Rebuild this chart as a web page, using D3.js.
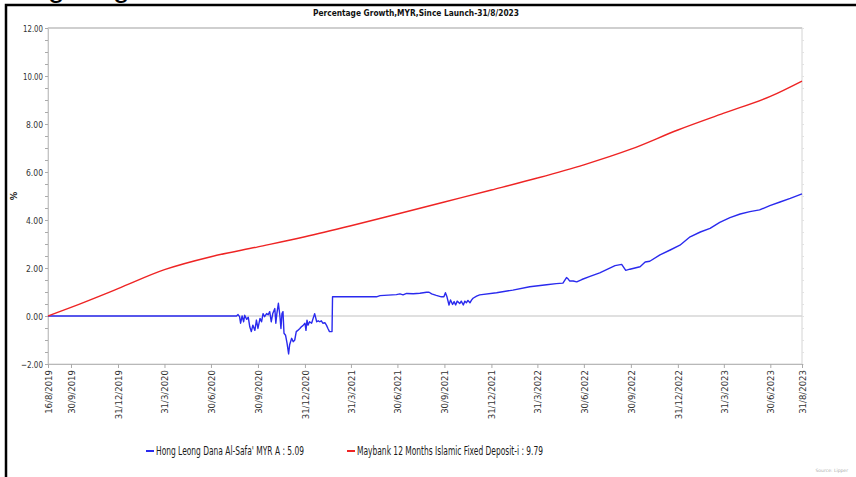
<!DOCTYPE html>
<html>
<head>
<meta charset="utf-8">
<script src="https://cdn.jsdelivr.net/npm/d3@7"></script>
<style>
  html, body { margin: 0; padding: 0; background: #fff; }
  svg { display: block; }
  .axis text { fill: #333; }
</style>
</head>
<body>
<svg id="chart" width="856" height="477"></svg>
<script>
"use strict";

const title = "Percentage Growth,MYR,Since Launch-31/8/2023";

const seriesNames = [
  "Hong Leong Dana Al-Safa' MYR A : 5.09",
  "Maybank 12 Months Islamic Fixed Deposit-i : 9.79",
];
const seriesColors = ["#2a2aee", "#ee2424"];

const xTickDates = [
  "2019-08-16", "2019-09-30", "2019-12-31", "2020-03-31", "2020-06-30",
  "2020-09-30", "2020-12-31", "2021-03-31", "2021-06-30", "2021-09-30",
  "2021-12-31", "2022-03-31", "2022-06-30", "2022-09-30", "2022-12-31",
  "2023-03-31", "2023-06-30", "2023-08-31",
];
const yTicks = [-2, 0, 2, 4, 6, 8, 10, 12];

// Hong Leong Dana Al-Safa' MYR A, % growth
const fundData = [
  ["2019-08-16", 0], ["2020-08-19", 0], ["2020-08-22", 0.06], ["2020-08-25", -0.03],
  ["2020-08-27", -0.3], ["2020-08-30", 0], ["2020-09-02", -0.24], ["2020-09-04", 0.03],
  ["2020-09-08", -0.14], ["2020-09-11", -0.05], ["2020-09-14", -0.45], ["2020-09-17", -0.65],
  ["2020-09-20", -0.38], ["2020-09-24", -0.6], ["2020-09-27", -0.17], ["2020-09-30", -0.52],
  ["2020-10-04", -0.1], ["2020-10-07", -0.24], ["2020-10-10", 0.1], ["2020-10-13", -0.03],
  ["2020-10-17", 0.1], ["2020-10-20", 0.05], ["2020-10-23", 0.18], ["2020-10-26", -0.24],
  ["2020-10-29", 0.1], ["2020-11-02", 0.31], ["2020-11-04", -0.3], ["2020-11-06", 0.1],
  ["2020-11-09", 0.53], ["2020-11-12", 0], ["2020-11-14", -0.52], ["2020-11-16", 0.1],
  ["2020-11-18", 0.18], ["2020-11-20", -0.72], ["2020-11-23", -0.8], ["2020-11-26", -1.14],
  ["2020-11-29", -1.58], ["2020-12-01", -1.2], ["2020-12-05", -0.93], ["2020-12-08", -1.07],
  ["2020-12-11", -1.0], ["2020-12-14", -0.65], ["2020-12-17", -0.6], ["2020-12-21", -0.52],
  ["2020-12-24", -0.45], ["2020-12-27", -0.4], ["2020-12-31", -0.3], ["2021-01-02", -0.6],
  ["2021-01-04", -0.17], ["2021-01-06", -0.38], ["2021-01-09", -0.24], ["2021-01-13", -0.3],
  ["2021-01-16", -0.1], ["2021-01-19", 0.1], ["2021-01-23", -0.24], ["2021-01-26", -0.2],
  ["2021-01-29", -0.24], ["2021-02-01", -0.2], ["2021-02-04", -0.3], ["2021-02-08", -0.28],
  ["2021-02-11", -0.38], ["2021-02-14", -0.52], ["2021-02-17", -0.65], ["2021-02-22", -0.65],
  ["2021-02-23", 0.8], ["2021-05-20", 0.8], ["2021-05-27", 0.85], ["2021-06-28", 0.89],
  ["2021-07-05", 0.92], ["2021-07-11", 0.88], ["2021-07-18", 0.94], ["2021-07-31", 0.93],
  ["2021-08-13", 0.95], ["2021-08-26", 0.99], ["2021-08-31", 0.99], ["2021-09-05", 0.92],
  ["2021-09-14", 0.86], ["2021-09-24", 0.8], ["2021-09-29", 0.8], ["2021-10-02", 0.97],
  ["2021-10-05", 0.8], ["2021-10-09", 0.46], ["2021-10-12", 0.67], ["2021-10-16", 0.48],
  ["2021-10-19", 0.6], ["2021-10-22", 0.46], ["2021-10-25", 0.62], ["2021-10-30", 0.52],
  ["2021-11-02", 0.62], ["2021-11-06", 0.46], ["2021-11-09", 0.62], ["2021-11-12", 0.55],
  ["2021-11-15", 0.65], ["2021-11-19", 0.55], ["2021-11-22", 0.66], ["2021-11-25", 0.74],
  ["2021-12-02", 0.83], ["2021-12-08", 0.88], ["2022-01-10", 0.97], ["2022-02-11", 1.08],
  ["2022-03-16", 1.22], ["2022-04-18", 1.3], ["2022-05-07", 1.35], ["2022-05-20", 1.37],
  ["2022-05-27", 1.6], ["2022-05-30", 1.55], ["2022-06-02", 1.46], ["2022-06-09", 1.46],
  ["2022-06-16", 1.42], ["2022-06-26", 1.52], ["2022-07-12", 1.65], ["2022-07-31", 1.8],
  ["2022-08-30", 2.1], ["2022-09-12", 2.15], ["2022-09-20", 1.9], ["2022-09-28", 1.95],
  ["2022-10-08", 2.0], ["2022-10-18", 2.05], ["2022-10-28", 2.25], ["2022-11-06", 2.28],
  ["2022-11-26", 2.55], ["2022-12-16", 2.75], ["2023-01-04", 2.95], ["2023-01-24", 3.3],
  ["2023-02-13", 3.5], ["2023-03-04", 3.65], ["2023-03-23", 3.9], ["2023-04-12", 4.1],
  ["2023-05-02", 4.25], ["2023-05-21", 4.35], ["2023-06-09", 4.42], ["2023-06-29", 4.6],
  ["2023-07-19", 4.75], ["2023-08-08", 4.9], ["2023-08-31", 5.09],
];

// Maybank 12 Months Islamic Fixed Deposit-i, % growth
const depositData = [
  ["2019-08-16", 0], ["2019-09-30", 0.36], ["2019-12-31", 1.14], ["2020-03-31", 1.93],
  ["2020-06-30", 2.47], ["2020-09-30", 2.88], ["2020-12-31", 3.3], ["2021-03-31", 3.76],
  ["2021-06-30", 4.25], ["2021-09-30", 4.75], ["2021-12-31", 5.25], ["2022-03-31", 5.75],
  ["2022-06-30", 6.3], ["2022-09-30", 6.95], ["2022-12-31", 7.75], ["2023-03-31", 8.45],
  ["2023-06-30", 9.15], ["2023-08-31", 9.79],
];

const parse = d3.utcParse("%Y-%m-%d");
const fmt = (d) => `${d.getUTCDate()}/${d.getUTCMonth() + 1}/${d.getUTCFullYear()}`;

const dims = { left: 48, right: 802, top: 28, bottom: 364 };
const svg = d3.select("#chart");

// outer frame (black, top and left only)
svg.append("path")
  .attr("d", "M6,477V5H856")
  .attr("fill", "none")
  .attr("stroke", "#000")
  .attr("stroke-width", 2.5);

// descenders of a heading cut off above the picture
svg.append("text").attr("x", 48).attr("y", -3)
  .attr("font-family", "Liberation Sans, sans-serif").attr("font-size", 30).text("g");
svg.append("text").attr("x", 113).attr("y", -3)
  .attr("font-family", "Liberation Sans, sans-serif").attr("font-size", 30).text("g");

const x = d3.scaleUtc()
  .domain([parse(xTickDates[0]), parse(xTickDates[xTickDates.length - 1])])
  .range([dims.left, dims.right]);
const y = d3.scaleLinear().domain([-2, 12]).range([dims.bottom, dims.top]);

// plot frame
svg.append("rect")
  .attr("x", dims.left).attr("y", dims.top)
  .attr("width", dims.right - dims.left).attr("height", dims.bottom - dims.top)
  .attr("fill", "none").attr("stroke", "#d4d4d4").attr("stroke-width", 1);
svg.append("line")
  .attr("x1", dims.left).attr("x2", dims.right)
  .attr("y1", dims.top).attr("y2", dims.top)
  .attr("stroke", "#cfcfcf").attr("stroke-width", 2);

// zero line
svg.append("line")
  .attr("x1", dims.left).attr("x2", dims.right)
  .attr("y1", y(0)).attr("y2", y(0))
  .attr("stroke", "#d6d6d6").attr("stroke-width", 1.5);

// minor ticks on the right edge
svg.append("g")
  .attr("transform", `translate(${dims.right},0)`)
  .call(d3.axisRight(y).ticks(28).tickSize(2).tickFormat(""))
  .call((g) => g.select(".domain").remove())
  .call((g) => g.selectAll("line").attr("stroke", "#e2e2e2"));

// y axis
const yMinor = d3.range(-2, 12.01, 0.5);
svg.append("g")
  .attr("transform", `translate(${dims.left},0)`)
  .call(d3.axisLeft(y).tickValues(yMinor).tickSize(3).tickFormat(""))
  .call((g) => g.select(".domain").attr("stroke", "#c4c4c4"))
  .call((g) => g.selectAll("line").attr("stroke", "#aaa"));
svg.append("g")
  .attr("class", "axis")
  .attr("transform", `translate(${dims.left},0)`)
  .call(d3.axisLeft(y).tickValues(yTicks).tickSize(3).tickPadding(2).tickFormat(d3.format(".2f")))
  .call((g) => g.select(".domain").remove())
  .call((g) => g.selectAll("line").attr("stroke", "#aaa"))
  .call((g) => g.selectAll("text")
    .attr("font-family", "Tahoma, 'DejaVu Sans Condensed', sans-serif")
    .attr("font-size", 9.5)
    .attr("textLength", (d) => (d < 0 ? 22 : d >= 10 ? 20 : 17))
    .attr("lengthAdjust", "spacingAndGlyphs"));

// x axis
const xAxis = d3.axisBottom(x)
  .tickValues(xTickDates.map(parse))
  .tickSize(4)
  .tickFormat(fmt);
svg.append("g")
  .attr("class", "axis")
  .attr("transform", `translate(0,${dims.bottom})`)
  .call(xAxis)
  .call((g) => g.select(".domain").attr("stroke", "#b8b8b8"))
  .call((g) => g.selectAll("line").attr("stroke", "#aaa"))
  .call((g) => g.selectAll("text")
    .attr("font-family", "'DejaVu Sans Condensed', sans-serif")
    .attr("font-size", 9.5)
    .attr("fill", "#222")
    .attr("text-anchor", "end")
    .attr("transform", "rotate(-90)")
    .attr("x", -6).attr("y", 0).attr("dy", "0.35em"));

// y label
svg.append("text")
  .attr("transform", `translate(17,${(dims.top + dims.bottom) / 2}) rotate(-90)`)
  .attr("text-anchor", "middle")
  .attr("font-family", "'DejaVu Sans', sans-serif")
  .attr("font-size", 8.5).attr("font-weight", "bold").attr("fill", "#222")
  .text("%");

// title
svg.append("text")
  .attr("x", 416).attr("y", 16)
  .attr("text-anchor", "middle")
  .attr("font-family", "'DejaVu Sans Condensed', sans-serif")
  .attr("font-size", 9).attr("font-weight", "bold").attr("fill", "#111")
  .attr("textLength", 206).attr("lengthAdjust", "spacingAndGlyphs")
  .text(title);

// lines
const fundLine = d3.line()
  .x((d) => x(parse(d[0])))
  .y((d) => y(d[1]));
const depositLine = d3.line()
  .curve(d3.curveMonotoneX)
  .x((d) => x(parse(d[0])))
  .y((d) => y(d[1]));
[[fundData, fundLine], [depositData, depositLine]].forEach(([data, gen], i) => {
  svg.append("path")
    .datum(data)
    .attr("fill", "none")
    .attr("stroke", seriesColors[i])
    .attr("stroke-width", 1.4)
    .attr("stroke-linejoin", "round")
    .attr("d", gen);
});

// legend
const legendX = [146, 347];
const legendW = [148, 186];
seriesNames.forEach((name, i) => {
  svg.append("line")
    .attr("x1", legendX[i]).attr("x2", legendX[i] + 8)
    .attr("y1", 451).attr("y2", 451)
    .attr("stroke", seriesColors[i]).attr("stroke-width", 2);
  svg.append("text")
    .attr("x", legendX[i] + 10).attr("y", 455)
    .attr("font-family", "'DejaVu Sans Condensed', sans-serif")
    .attr("font-size", 12).attr("fill", "#1a1a1a")
    .attr("textLength", legendW[i]).attr("lengthAdjust", "spacingAndGlyphs")
    .text(name);
});

// source
svg.append("text")
  .attr("x", 848).attr("y", 472)
  .attr("text-anchor", "end")
  .attr("font-family", "'DejaVu Sans', sans-serif")
  .attr("font-size", 4.5).attr("fill", "#aaa")
  .text("Source: Lipper");
</script>
</body>
</html>
